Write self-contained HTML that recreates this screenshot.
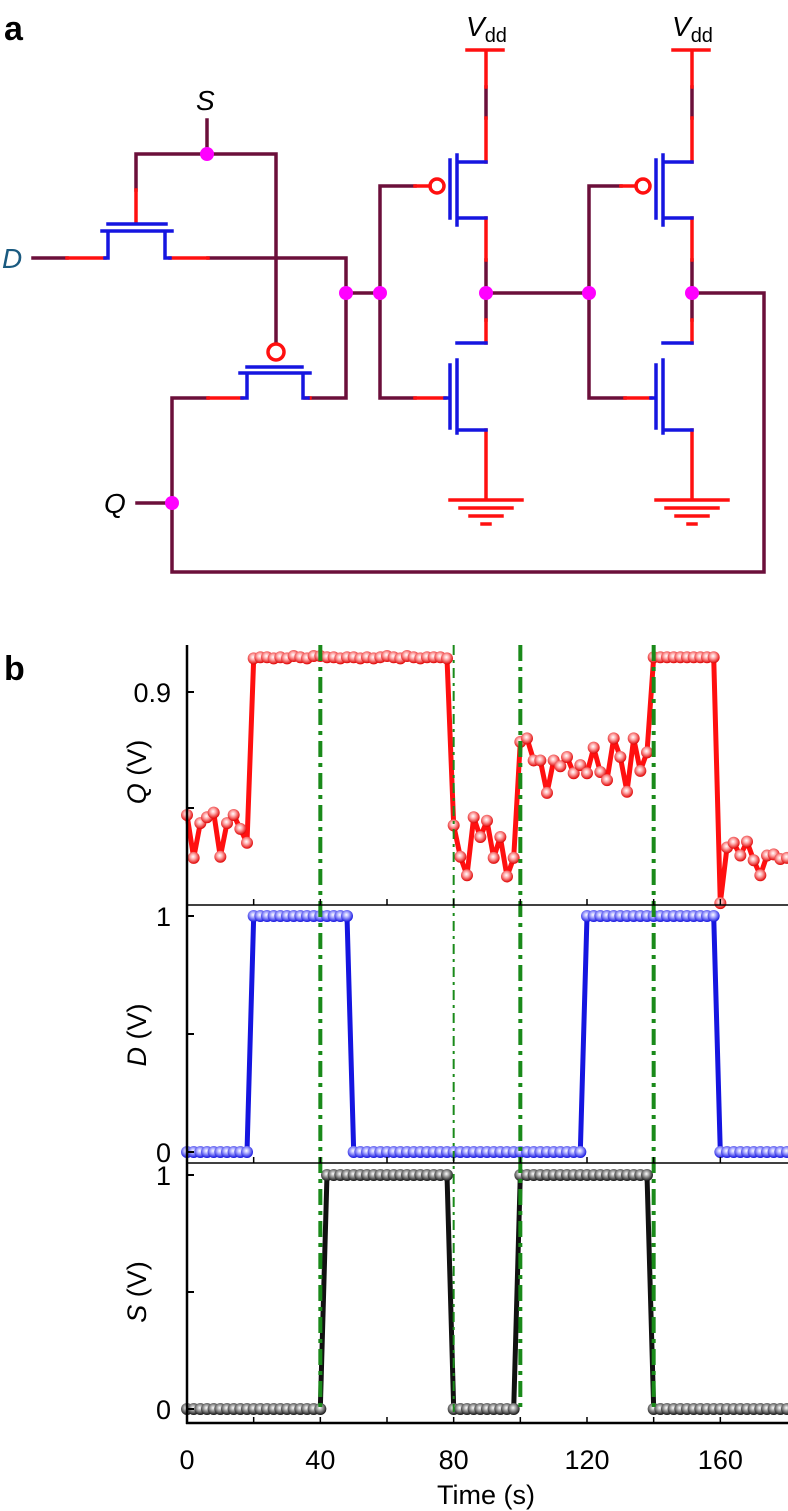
<!DOCTYPE html>
<html><head><meta charset="utf-8"><style>
html,body{margin:0;padding:0;background:#fff;}
svg{display:block;font-family:"Liberation Sans",Arial,sans-serif;}
</style></head><body>
<svg id="fig" width="788" height="1511" viewBox="0 0 788 1511" xmlns="http://www.w3.org/2000/svg">
<defs>
<radialGradient id="gR" cx="0.45" cy="0.4" r="0.6"><stop offset="0" stop-color="#fff"/><stop offset="0.35" stop-color="#ffb0b0"/><stop offset="1" stop-color="#e00000"/></radialGradient>
<radialGradient id="gB" cx="0.45" cy="0.4" r="0.6"><stop offset="0" stop-color="#fff"/><stop offset="0.35" stop-color="#b0b0ff"/><stop offset="1" stop-color="#1010e0"/></radialGradient>
<radialGradient id="gK" cx="0.45" cy="0.4" r="0.6"><stop offset="0" stop-color="#fff"/><stop offset="0.35" stop-color="#aaa"/><stop offset="1" stop-color="#111"/></radialGradient>
</defs>
<g id="circuit" stroke-width="3.5" fill="none" stroke-linecap="square">
<text x="4" y="40" font-size="34" font-weight="bold" fill="#000" stroke="none">a</text>
<text x="196" y="110" font-size="28" font-style="italic" fill="#000" stroke="none">S</text>
<text x="2" y="268" font-size="28" font-style="italic" fill="#1a5a80" stroke="none">D</text>
<text x="104" y="513" font-size="28" font-style="italic" fill="#000" stroke="none">Q</text>
<g stroke="#6b0f3a">
<path d="M207 120V154M136 154H276M136 154V190M33 258H67M208 258H346V293M276 154V343M346 293H380M380 186V398M380 186H415M172 398H208M310 398H346V293M172 398V572H764V293H691M137 503H172M486 87V118M486 260V293M486 293V320M486 293H589M589 186V398M589 186H621M589 398H625M692 87V118M692 260V293M692 293V320M380 398H415"/>
</g>
<g stroke="#ff1010">
<path d="M136 190V223M67 258H105M170 258H208M208 398H242M415 186H430M486 50V87M486 118V162M467 50H503M486 218V260M486 320V343M486 430V500M415 398H445M450 500H522M460 508H512M470 516H502M482 524H490M692 50V87M692 118V162M673 50H709M692 218V260M692 320V343M692 430V500M625 398H651M656 500H728M666 508H718M676 516H708M688 524H696M621 186H636M305 398H310"/>
<circle cx="276" cy="352" r="8"/><circle cx="437" cy="186" r="7"/><circle cx="643" cy="186" r="7"/>
</g>
<g stroke="#1515e0">
<path d="M108 224H166M102 231H172M108 231V258H105M165 231V258H170"/>
<path d="M247 367H302M240 373H310M247 373V398H242M303 373V398H308"/>
<path d="M450 160V218M457 155V225M457 162H486M457 218H486"/>
<path d="M450 365V428M457 360V433M457 343H486M457 430H486M450 398H445"/>
<path d="M656 160V218M663 155V225M663 162H692M663 218H692"/>
<path d="M656 365V428M663 360V433M663 343H692M663 430H692M656 398H651"/>
</g>
<g fill="#ff00ff" stroke="none">
<circle cx="207" cy="154" r="7"/><circle cx="346" cy="293" r="7"/><circle cx="380" cy="293" r="7"/><circle cx="486" cy="293" r="7"/><circle cx="589" cy="293" r="7"/><circle cx="692" cy="293" r="7"/><circle cx="172" cy="503" r="7"/>
</g>
<g stroke="none" fill="#000">
<text x="466" y="36" font-size="28" font-style="italic">V<tspan font-size="20" font-style="normal" dy="6">dd</tspan></text>
<text x="672" y="36" font-size="28" font-style="italic">V<tspan font-size="20" font-style="normal" dy="6">dd</tspan></text>
</g>
</g>
<text x="4" y="680" font-size="34" font-weight="bold" fill="#000">b</text>
<g id="chart"></g>
</svg>
<script>
const qValues = [0.794,0.757,0.787,0.792,0.796,0.758,0.787,0.794,0.782,0.770,
0.929,0.930,0.930,0.929,0.930,0.929,0.931,0.930,0.929,0.931,
0.931,0.930,0.930,0.929,0.930,0.930,0.929,0.930,0.929,0.930,
0.931,0.930,0.929,0.931,0.930,0.929,0.930,0.930,0.930,0.929,
0.785,0.758,0.742,0.792,0.775,0.789,0.757,0.775,0.741,0.757,
0.857,0.860,0.841,0.841,0.813,0.841,0.836,0.844,0.830,0.837,
0.830,0.852,0.831,0.824,0.860,0.844,0.814,0.860,0.832,0.848,
0.930,0.930,0.930,0.930,0.930,0.930,0.930,0.930,0.930,0.930,
0.718,0.766,0.770,0.759,0.771,0.755,0.742,0.759,0.760,0.756,
0.757];
const dValues = [0,0,0,0,0,0,0,0,0,0,
1,1,1,1,1,1,1,1,1,1,
1,1,1,1,1,0,0,0,0,0,
0,0,0,0,0,0,0,0,0,0,
0,0,0,0,0,0,0,0,0,0,
0,0,0,0,0,0,0,0,0,0,
1,1,1,1,1,1,1,1,1,1,
1,1,1,1,1,1,1,1,1,1,
0,0,0,0,0,0,0,0,0,0,
0];
const sValues = [0,0,0,0,0,0,0,0,0,0,
0,0,0,0,0,0,0,0,0,0,
0,1,1,1,1,1,1,1,1,1,
1,1,1,1,1,1,1,1,1,1,
0,0,0,0,0,0,0,0,0,0,
1,1,1,1,1,1,1,1,1,1,
1,1,1,1,1,1,1,1,1,1,
0,0,0,0,0,0,0,0,0,0,
0,0,0,0,0,0,0,0,0,0,
0];
const timeStep = 2;
const xTicks = [0,40,80,120,160];
const xMinorTicks = [20,40,60,80,100,120,140,160];
const eventTimes = [40,80,100,140];
const eventThick = [true,false,true,true];
const qTickLabels = ["0.9"];
const qTicks = [0.9,0.8];

const NS="http://www.w3.org/2000/svg";
const chart=document.getElementById('chart');
const X=t=>187+t*(600/180);
const YQ=v=>692-(v-0.9)*1160;
const YD=v=>1152-v*236;
const YS=v=>1409-v*234;
function mk(tag,attrs,parent){const e=document.createElementNS(NS,tag);for(const k in attrs)e.setAttribute(k,attrs[k]);(parent||chart).appendChild(e);return e;}

function series(vals,Y,color,grad,name){
  const g=mk('g',{});
  
  
  const pts=vals.map((v,i)=>X(i*timeStep).toFixed(1)+','+Y(v).toFixed(1)).join(' ');
  const l=mk('polyline',{points:pts,fill:'none',stroke:color,'stroke-width':5,'stroke-linejoin':'round'},g);
  
  
  vals.forEach((v,i)=>{
    const c=mk('circle',{cx:X(i*timeStep),cy:Y(v),r:6,fill:'url(#'+grad+')'},g);
    
    
  });
}
series(qValues,YQ,'#ff1010','gR','q');
series(dValues,YD,'#1515e0','gB','d');
series(sValues,YS,'#111','gK','s');

eventTimes.forEach((t,i)=>{
  const l=mk('line',{x1:X(t),x2:X(t),y1:645,y2:1412,stroke:'#1a8a1a','stroke-width':eventThick[i]?4:2,'stroke-dasharray':eventThick[i]?'16,6,4,6':'10,5,3,5'});
  
  
});

const ax=mk('g',{stroke:'#000',fill:'none'});


mk('line',{x1:187,x2:187,y1:645,y2:1424,'stroke-width':2.5},ax);
mk('line',{x1:186,x2:788,y1:905,y2:905,'stroke-width':1.5},ax);
mk('line',{x1:186,x2:788,y1:1163,y2:1163,'stroke-width':1.5},ax);
mk('line',{x1:186,x2:788,y1:1423,y2:1423,'stroke-width':2.5},ax);
[905,1163,1423].forEach(y=>xMinorTicks.forEach(t=>mk('line',{x1:X(t),x2:X(t),y1:y,y2:y-6,'stroke-width':1.5},ax)));
qTicks.forEach(v=>mk('line',{x1:187,x2:194,y1:YQ(v),y2:YQ(v),'stroke-width':2},ax));
[0,0.5,1].forEach(v=>{mk('line',{x1:187,x2:194,y1:YD(v),y2:YD(v),'stroke-width':2},ax);mk('line',{x1:187,x2:194,y1:YS(v),y2:YS(v),'stroke-width':2},ax);});

function txt(s,x,y,attrs,name){const e=mk('text',Object.assign({x:x,y:y,'font-size':27,fill:'#000'},attrs||{}));e.textContent=s;return e;}
qTickLabels.forEach((s,i)=>txt(s,171,YQ(qTicks[i])+10,{'text-anchor':'end'},'q-tick-label'));
txt('1',171,YD(1)+10,{'text-anchor':'end'},'d-tick-label');
txt('0',171,YD(0)+10,{'text-anchor':'end'},'d-tick-label');
txt('1',171,YS(1)+10,{'text-anchor':'end'},'s-tick-label');
txt('0',171,YS(0)+10,{'text-anchor':'end'},'s-tick-label');
xTicks.forEach(t=>txt(String(t),X(t),1469,{'text-anchor':'middle'},'x-tick-label'));
txt('Time (s)',486,1504,{'text-anchor':'middle'},'x-axis-title');
function ylab(v,y,name){const e=mk('text',{x:0,y:0,'font-size':27,'text-anchor':'middle',transform:'translate(146,'+y+') rotate(-90)'});
 
 const a=document.createElementNS(NS,'tspan');a.setAttribute('font-style','italic');a.textContent=v;e.appendChild(a);
 const b=document.createElementNS(NS,'tspan');b.textContent=' (V)';e.appendChild(b);}
ylab('Q',772,'q-axis-title');ylab('D',1035,'d-axis-title');ylab('S',1292,'s-axis-title');
</script>
</body></html>
